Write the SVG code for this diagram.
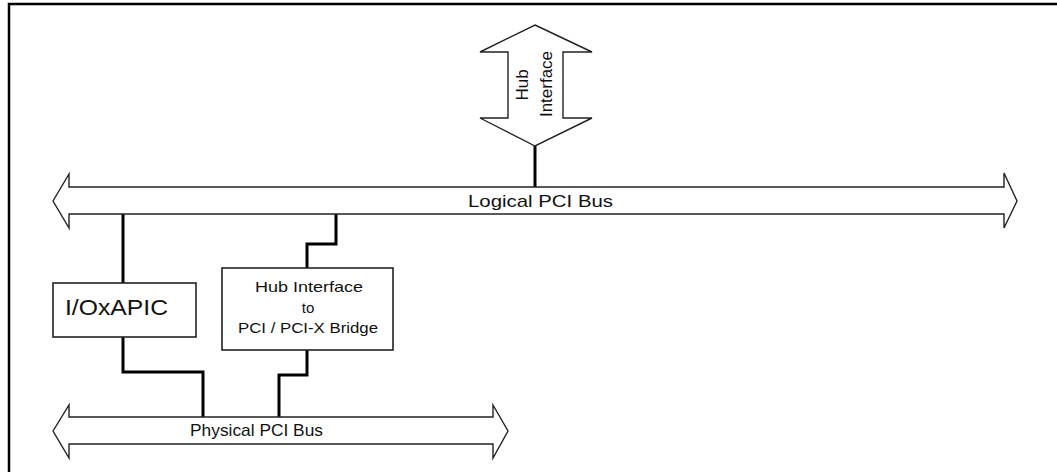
<svg xmlns="http://www.w3.org/2000/svg" width="1057" height="472" viewBox="0 0 1057 472">
<style>
.bus{fill:#fff;stroke:#222;stroke-width:1.4;stroke-linejoin:miter}
.box{fill:#fff;stroke:#222;stroke-width:1.6}
.wire{fill:none;stroke:#000;stroke-width:3}
.frame{fill:none;stroke:#000;stroke-width:2.5}
text{font-family:"Liberation Sans",Arial,sans-serif;fill:#111}
</style>
<rect width="1057" height="472" fill="#fff"/>
<path class="frame" d="M9,472 V4 H1057"/>
<g id="connectors">
<line class="wire" x1="535" y1="146" x2="535" y2="187"/>
<line class="wire" x1="123" y1="214" x2="123" y2="283"/>
<polyline class="wire" points="123,337 123,372 203,372 203,417"/>
<polyline class="wire" points="336,214 336,244 307,244 307,268"/>
<polyline class="wire" points="307,350 307,375 279,375 279,417"/>
</g>
<g id="hub-interface">
<polygon class="bus" points="535,25 592,52 563,52 563,118 592,118 535,146 480,118 508,118 508,52 480,52"/>
<text font-size="17" text-anchor="middle" transform="translate(528,85) rotate(-90)">Hub</text>
<text font-size="17" text-anchor="middle" transform="translate(552,84) rotate(-90)">Interface</text>
</g>
<g id="logical-pci-bus">
<polygon class="bus" points="53,201 69,174 69,187 1004,187 1004,173 1017,201 1004,228 1004,214 69,214 69,228"/>
<text x="468" y="207" font-size="17" textLength="145" lengthAdjust="spacingAndGlyphs">Logical PCI Bus</text>
</g>
<g id="physical-pci-bus">
<polygon class="bus" points="53,431 69,405 69,417 493,417 493,405 508,431 493,458 493,444 69,444 69,458"/>
<text x="190" y="436" font-size="17" textLength="133" lengthAdjust="spacingAndGlyphs">Physical PCI Bus</text>
</g>
<g id="ioxapic">
<rect class="box" x="53" y="283" width="143" height="54"/>
<text x="65" y="315" font-size="22" textLength="103" lengthAdjust="spacingAndGlyphs">I/OxAPIC</text>
</g>
<g id="bridge">
<rect class="box" x="222" y="268" width="171" height="82"/>
<text x="255" y="292" font-size="15" textLength="108" lengthAdjust="spacingAndGlyphs">Hub Interface</text>
<text x="308" y="313" font-size="15" text-anchor="middle">to</text>
<text x="238" y="333" font-size="15" textLength="140" lengthAdjust="spacingAndGlyphs">PCI / PCI-X Bridge</text>
</g>
</svg>
